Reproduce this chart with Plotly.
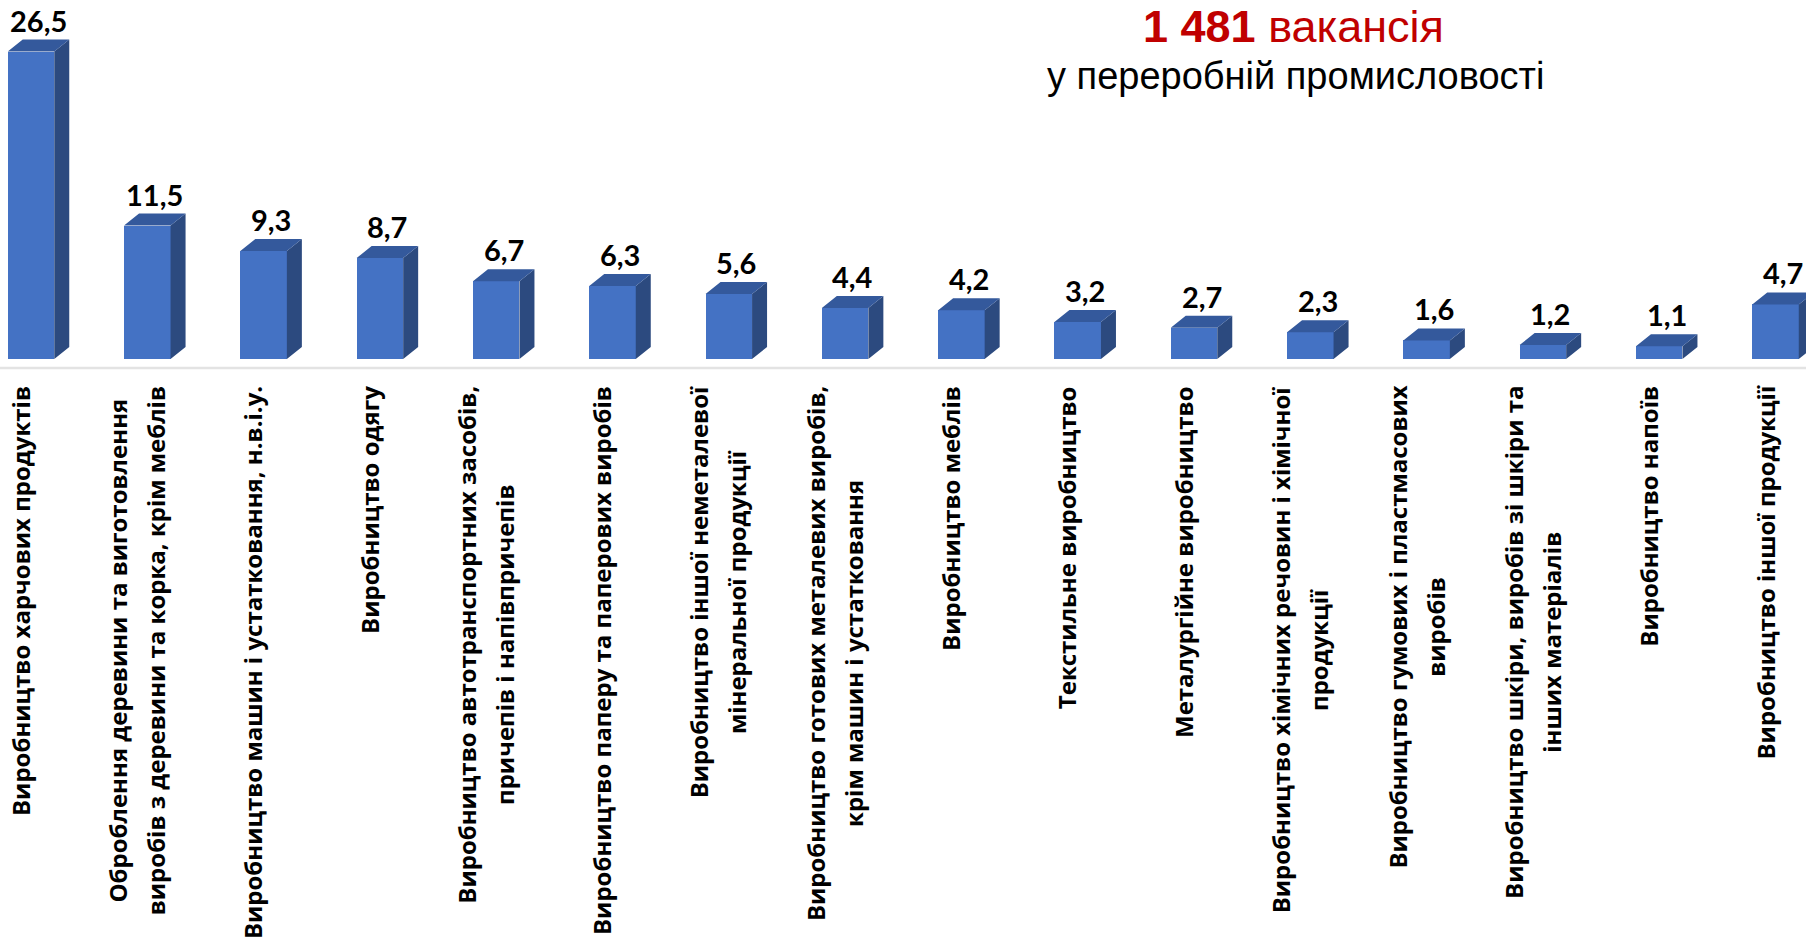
import plotly.graph_objects as go

categories = [
    ["Виробництво харчових продуктів"],
    ["Оброблення деревини та виготовлення", "виробів з деревини та корка, крім меблів"],
    ["Виробництво машин і устатковання, н.в.і.у."],
    ["Виробництво одягу"],
    ["Виробництво автотранспортних засобів,", "причепів і напівпричепів"],
    ["Виробництво паперу та паперових виробів"],
    ["Виробництво іншої неметалевої", "мінеральної продукції"],
    ["Виробництво готових металевих виробів,", "крім машин і устатковання"],
    ["Виробництво меблів"],
    ["Текстильне виробництво"],
    ["Металургійне виробництво"],
    ["Виробництво хімічних речовин і хімічної", "продукції"],
    ["Виробництво гумових і пластмасових", "виробів"],
    ["Виробництво шкіри, виробів зі шкіри та", "інших матеріалів"],
    ["Виробництво напоїв"],
    ["Виробництво іншої продукції"],
]
values = [26.5, 11.5, 9.3, 8.7, 6.7, 6.3, 5.6, 4.4, 4.2, 3.2, 2.7, 2.3, 1.6, 1.2, 1.1, 4.7]
value_labels = ["26,5", "11,5", "9,3", "8,7", "6,7", "6,3", "5,6", "4,4", "4,2", "3,2",
                "2,7", "2,3", "1,6", "1,2", "1,1", "4,7"]
title_total = "1 481"
title_word = "вакансія"
subtitle = "у переробній промисловості"

# ---- geometry / style ----
W, H = 1806, 941
PX_PER_CAT = 116.3
FIRST_PX = 31.0
BASE_PX = 359          # pixel row of the value 0
PX_PER_UNIT = 11.6
DEPTH_X_PX, DEPTH_Y_PX = 15.0, 12.0
BAR_W = 0.40

x0 = -FIRST_PX / PX_PER_CAT
x1 = x0 + W / PX_PER_CAT
y_top = BASE_PX / PX_PER_UNIT
dx = DEPTH_X_PX / PX_PER_CAT
dy = DEPTH_Y_PX / PX_PER_UNIT

FRONT = "#4472C4"
SIDE = "#2C4A7F"
TOP = "#34599C"

xs = list(range(len(values)))

fig = go.Figure()
fig.add_trace(go.Bar(x=xs, y=values, width=BAR_W, marker=dict(color=FRONT, line=dict(width=0)),
                     hoverinfo="skip", showlegend=False))

side_x, side_y, top_x, top_y = [], [], [], []
for i, v in zip(xs, values):
    r = i + BAR_W / 2
    l = i - BAR_W / 2
    side_x += [r, r + dx, r + dx, r, r, None]
    side_y += [0, dy, v + dy, v, 0, None]
    top_x += [l, l + dx, r + dx, r, l, None]
    top_y += [v, v + dy, v + dy, v, v, None]

fig.add_trace(go.Scatter(x=side_x, y=side_y, mode="lines", fill="toself", fillcolor=SIDE,
                         line=dict(width=0, color=SIDE), hoverinfo="skip", showlegend=False))
fig.add_trace(go.Scatter(x=top_x, y=top_y, mode="lines", fill="toself", fillcolor=TOP,
                         line=dict(width=0, color=TOP), hoverinfo="skip", showlegend=False))

annotations = []
# value labels
for i, v, t in zip(xs, values, value_labels):
    annotations.append(dict(x=i + dx / 2, y=v + dy, xref="x", yref="y", text=t, showarrow=False,
                            yanchor="bottom", xanchor="center", yshift=0,
                            font=dict(family="Lato", size=29, color="#000000", weight="bold")))

# category labels (rotated, centered lines)
CAT_FONT = dict(family="Open Sans", size=24, color="#000000", weight="bold")
HIDE = "<span style='color:rgba(0,0,0,0)'>{}</span>"
LABEL_SHIFT_X = -11
LABEL_TOP_GAP = 25
EXTRA_SPREAD = 3.5
for i, lines in zip(xs, categories):
    common = dict(x=i, y=0, xref="x", yref="y", showarrow=False, textangle=-90,
                  xanchor="center", yanchor="top", yshift=-LABEL_TOP_GAP, align="center",
                  font=CAT_FONT)
    if len(lines) == 1:
        annotations.append(dict(text=lines[0], xshift=LABEL_SHIFT_X, **common))
    else:
        a, b = lines
        annotations.append(dict(text=a + "<br>" + HIDE.format(b), xshift=LABEL_SHIFT_X - EXTRA_SPREAD, **common))
        annotations.append(dict(text=HIDE.format(a) + "<br>" + b, xshift=LABEL_SHIFT_X + EXTRA_SPREAD, **common))

# title
annotations.append(dict(x=1293 / W, y=1, xref="paper", yref="paper", yanchor="middle", xanchor="center",
                        yshift=-26, showarrow=False,
                        text=f"<b>{title_total}</b> {title_word}",
                        font=dict(family="Liberation Sans", size=45, color="#C00000")))
annotations.append(dict(x=1295 / W, y=1, xref="paper", yref="paper", yanchor="middle", xanchor="center",
                        yshift=-76, showarrow=False, text=subtitle,
                        font=dict(family="Liberation Sans", size=38, color="#000000")))

fig.update_layout(
    width=W, height=H,
    margin=dict(l=0, r=0, t=0, b=H - BASE_PX, pad=0),
    paper_bgcolor="white", plot_bgcolor="white",
    bargap=0,
    xaxis=dict(range=[x0, x1], showgrid=False, zeroline=False, showticklabels=False,
               showline=False, ticks="", fixedrange=True),
    yaxis=dict(range=[0, y_top], showgrid=False, zeroline=False, showticklabels=False,
               showline=False, ticks="", fixedrange=True),
    annotations=annotations,
    shapes=[dict(type="line", xref="paper", x0=0, x1=1, yref="paper",
                 y0=-9 / BASE_PX, y1=-9 / BASE_PX, line=dict(color="#E3E3E3", width=2.5),
                 layer="below")],
    showlegend=False,
)

fig.write_html("out.html", config={"displayModeBar": False},
               post_script="document.body.style.margin='0';document.body.style.overflow='hidden';")
